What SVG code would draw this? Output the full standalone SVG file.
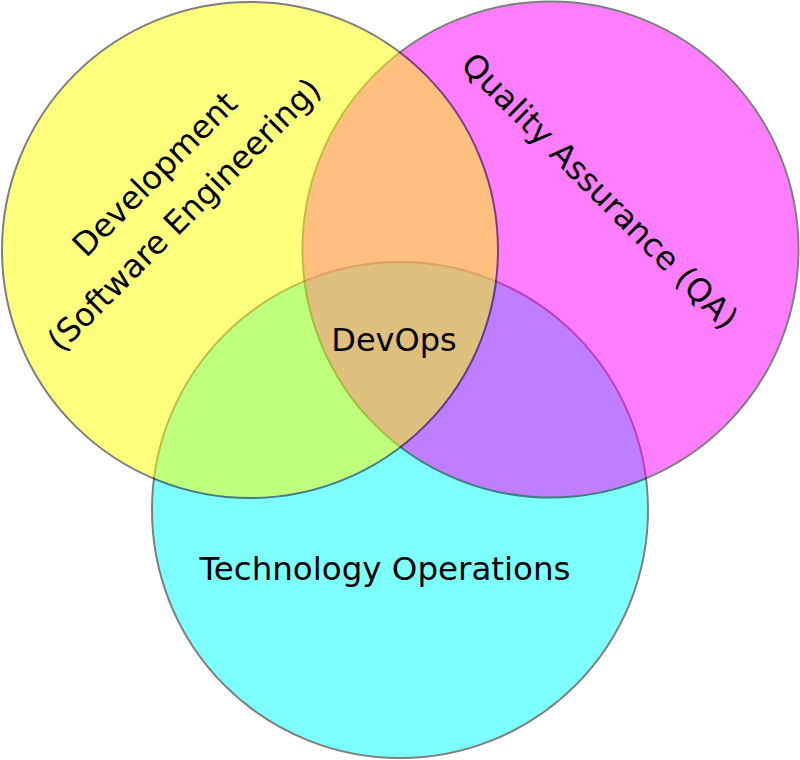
<svg xmlns="http://www.w3.org/2000/svg" width="800" height="760" viewBox="0 0 800 760">
<style>
.c{stroke:#000;stroke-width:2;opacity:0.5}
.t{font-family:"DejaVu Sans",sans-serif;fill:#000}
</style>
<rect width="800" height="760" fill="#fff"/>
<g id="ops"><circle class="c" cx="400" cy="510" r="248" fill="#00ffff"/></g>
<g id="qa"><circle class="c" cx="550.5" cy="249.5" r="248" fill="#ff00ff"/></g>
<g id="dev"><circle class="c" cx="250" cy="250" r="248" fill="#ffff00"/></g>
<g id="connectors"></g>
<g id="labels">
<g id="label-dev" transform="translate(177,202) rotate(-45)">
<text class="t" font-size="32.2" text-anchor="middle"><tspan x="4" y="-24.5">Development</tspan><tspan x="-4" y="25">(Software Engineering)</tspan></text>
</g>
<g id="label-qa" transform="translate(592,199) rotate(45)">
<text class="t" font-size="32.2" text-anchor="middle" x="0" y="0">Quality Assurance (QA)</text>
</g>
<text id="label-devops" class="t" font-size="32" text-anchor="middle" x="394" y="351">DevOps</text>
<text id="label-ops" class="t" font-size="32.5" text-anchor="middle" x="385" y="580">Technology Operations</text>
</g>
</svg>
